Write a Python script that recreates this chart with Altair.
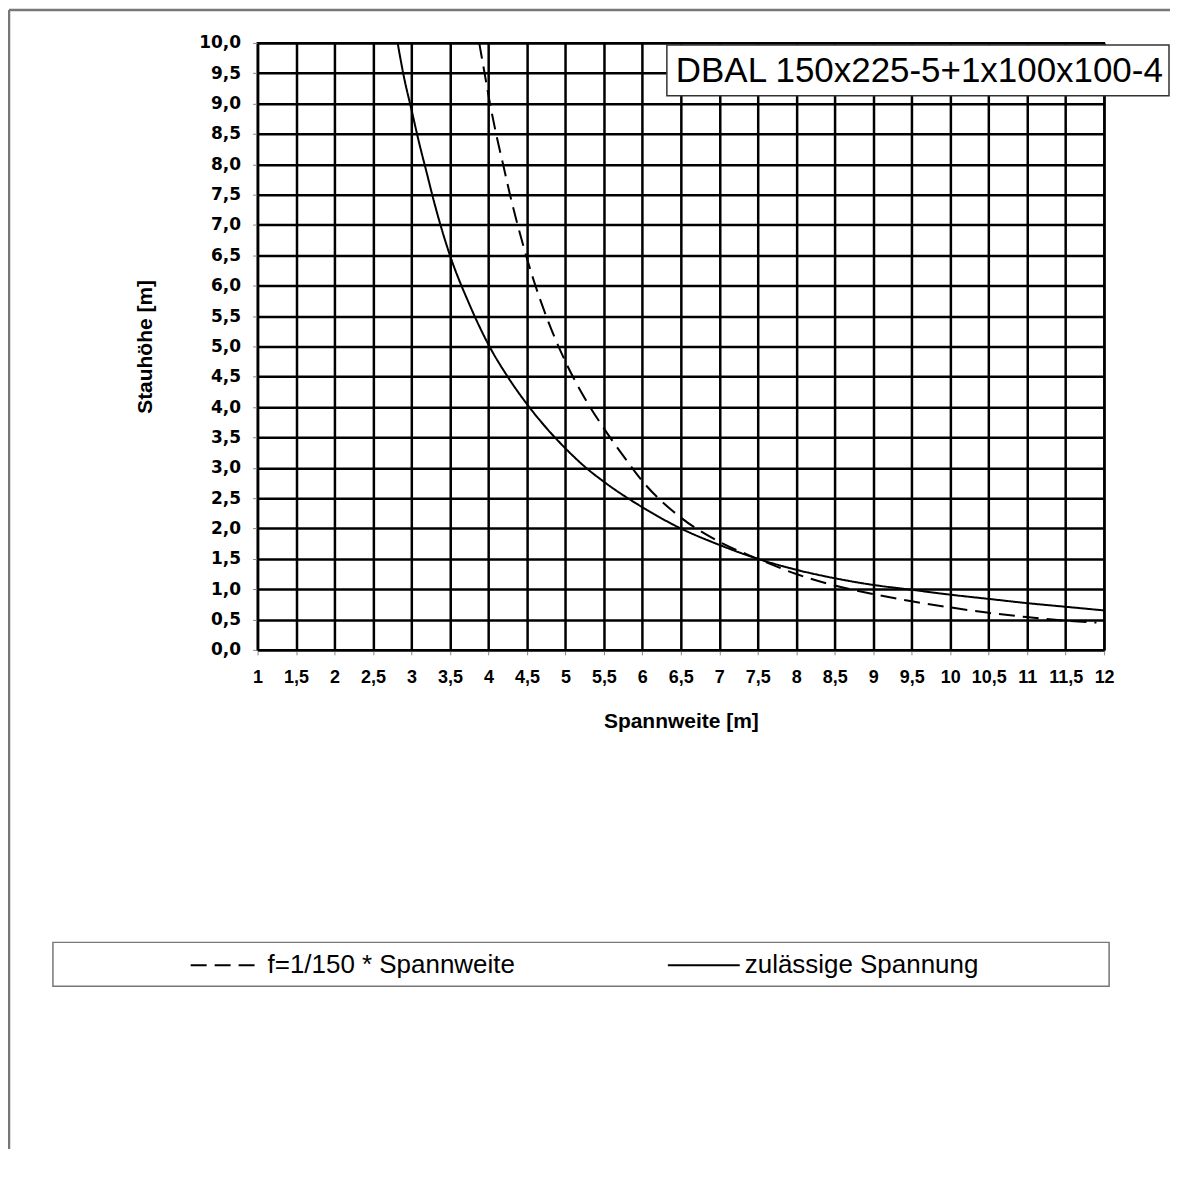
import altair as alt
import pandas as pd

TITLE_TEXT = "DBAL 150x225-5+1x100x100-4"
SERIES_DASH = "f=1/150 * Spannweite"
SERIES_SOLID = "zulässige Spannung"

x_solid = [2.82, 2.9, 3.0, 3.1, 3.2, 3.3, 3.4, 3.5, 3.75, 4.0, 4.25, 4.5, 4.75, 5.0, 5.25, 5.5, 6.0, 6.5, 7.0,
           7.5, 8.0, 8.5, 9.0, 9.5, 10.0, 10.5, 11.0, 11.5, 12.0]
y_solid = [10.0, 9.45, 8.9, 8.35, 7.85, 7.35, 6.9, 6.5, 5.7, 5.03, 4.5, 4.05, 3.66, 3.32, 3.02, 2.77, 2.35, 2.0, 1.73,
           1.5, 1.32, 1.18, 1.07, 0.99, 0.91, 0.84, 0.77, 0.71, 0.65]

x_dash = [3.88, 3.95, 4.02, 4.1, 4.19, 4.28, 4.38, 4.5, 4.75, 5.0, 5.25, 5.5, 5.75, 6.0, 6.5, 7.0, 7.5, 8.0, 8.5,
          9.0, 9.5, 10.0, 10.5, 11.0, 11.5, 11.9]
y_dash = [10.0, 9.5, 9.0, 8.5, 8.0, 7.5, 7.0, 6.45, 5.5, 4.75, 4.15, 3.65, 3.2, 2.78, 2.18, 1.78, 1.5, 1.25, 1.06,
          0.92, 0.8, 0.7, 0.61, 0.54, 0.48, 0.45]

x_ticks = [1, 1.5, 2, 2.5, 3, 3.5, 4, 4.5, 5, 5.5, 6, 6.5, 7, 7.5, 8, 8.5, 9, 9.5, 10, 10.5, 11, 11.5, 12]
y_ticks = [0, 0.5, 1, 1.5, 2, 2.5, 3, 3.5, 4, 4.5, 5, 5.5, 6, 6.5, 7, 7.5, 8, 8.5, 9, 9.5, 10]

df = pd.concat([
    pd.DataFrame({"x": x_dash, "y": y_dash, "series": SERIES_DASH}),
    pd.DataFrame({"x": x_solid, "y": y_solid, "series": SERIES_SOLID}),
], ignore_index=True)

W, H = 848, 608

lines = alt.Chart(df).mark_line(color="black", strokeWidth=2, interpolate="monotone").encode(
    x=alt.X("x:Q", scale=alt.Scale(domain=[1, 12], nice=False, zero=False),
            axis=alt.Axis(values=x_ticks, title="Spannweite [m]",
                          labelExpr="replace(toString(datum.value), '.', ',')",
                          labelFont="Liberation Sans", labelFontSize=18, labelFontWeight="bold",
                          labelPadding=14, labelOverlap=False, labelFlush=False,
                          titleFont="Liberation Sans", titleFontSize=21, titleFontWeight="bold",
                          titlePadding=24)),
    y=alt.Y("y:Q", scale=alt.Scale(domain=[0, 10], nice=False),
            axis=alt.Axis(values=y_ticks, title="Stauhöhe [m]",
                          labelExpr="replace(format(datum.value, '.1f'), '.', ',')",
                          labelFont="DejaVu Sans", labelFontSize=17, labelFontWeight="bold",
                          labelPadding=12, labelOverlap=False, labelFlush=False,
                          titleFont="Liberation Sans", titleFontSize=21, titleFontWeight="bold",
                          titlePadding=43)),
    strokeDash=alt.StrokeDash("series:N",
                              scale=alt.Scale(domain=[SERIES_DASH, SERIES_SOLID], range=[[16, 8], [1, 0]]),
                              legend=alt.Legend(title=None, orient="none", direction="horizontal",
                                                legendX=-68, legendY=887, padding=0,
                                                symbolType="stroke", symbolSize=5184,
                                                symbolStrokeWidth=2, symbolStrokeColor="black",
                                                labelFont="Liberation Sans", labelFontSize=26,
                                                labelLimit=600,
                                                labelColor="black", labelOffset=4, columnPadding=149)),
)

one = pd.DataFrame({"k": [0]})

title_box = alt.Chart(one).mark_rect(fill="white", stroke="#333333", strokeWidth=1.5).encode(
    x=alt.value(410), x2=alt.value(913), y=alt.value(2), y2=alt.value(53))
title_text = alt.Chart(one).mark_text(align="left", baseline="middle", fontSize=35,
                                      font="Liberation Sans", color="black").encode(
    x=alt.value(419), y=alt.value(28), text=alt.value(TITLE_TEXT))

legend_box = alt.Chart(one).mark_rect(fill="white", stroke="#777777", strokeWidth=1.5).encode(
    x=alt.value(-205), x2=alt.value(853), y=alt.value(901), y2=alt.value(945))

frame_left = alt.Chart(one).mark_rule(color="#777777", strokeWidth=2.5).encode(
    x=alt.value(-249), y=alt.value(-33), y2=alt.value(1108))
frame_top = alt.Chart(one).mark_rule(color="#777777", strokeWidth=2.5).encode(
    x=alt.value(-249), x2=alt.value(914), y=alt.value(-33))

chart = alt.layer(frame_left, frame_top, legend_box, lines, title_box, title_text).properties(
    width=W, height=H,
    autosize=alt.AutoSizeParams(type="none"),
    padding={"left": 250, "top": 34, "right": 66, "bottom": 500},
).configure_axis(
    grid=True, gridColor="black", gridWidth=2.5, gridOpacity=1,
    domainColor="black", domainWidth=2,
    tickColor="#888888", tickSize=5, tickWidth=1,
    labelColor="black", titleColor="black",
).configure_view(stroke="black", strokeWidth=2)

chart.save("out.html", embed_options={"renderer": "svg", "actions": False})
